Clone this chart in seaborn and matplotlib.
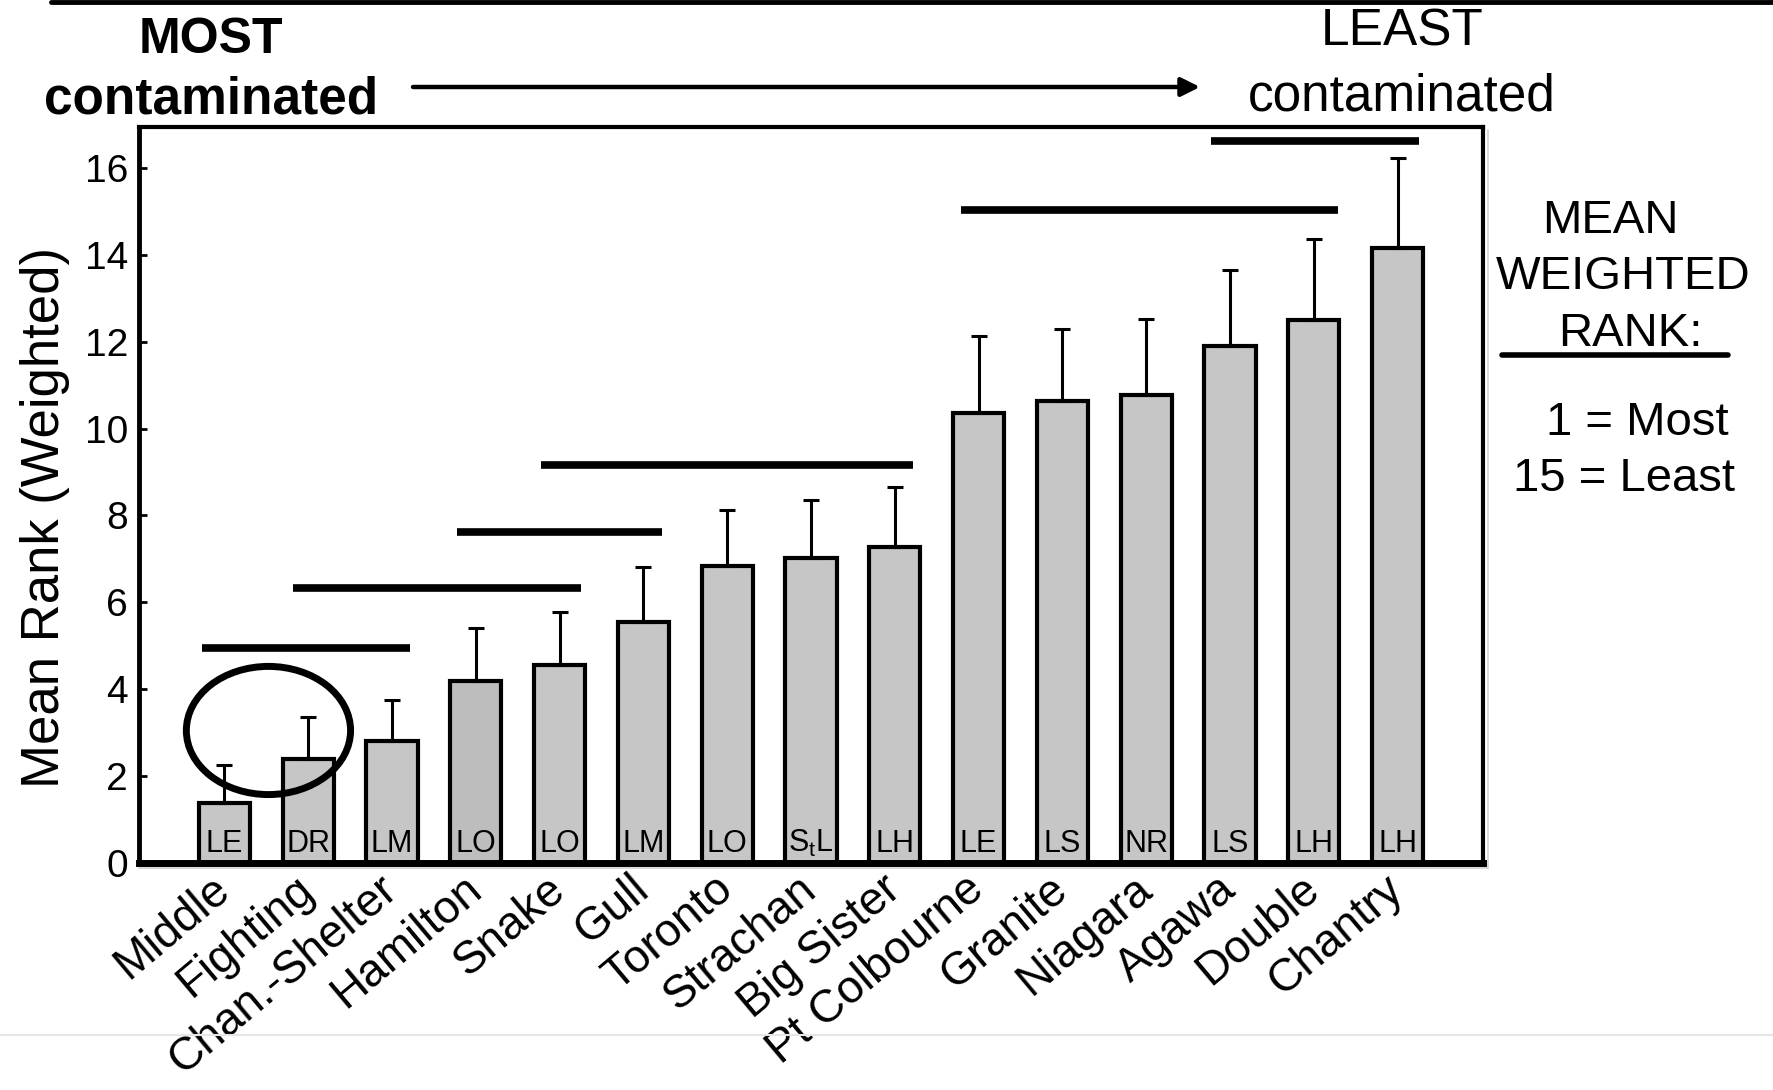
import matplotlib
matplotlib.use("Agg")
import matplotlib.pyplot as plt
from matplotlib.patches import Ellipse
from matplotlib.lines import Line2D
import numpy as np
import pandas as pd
import seaborn as sns

# Sites ordered from most to least contaminated
sites = ["Middle", "Fighting", "Chan.-Shelter", "Hamilton", "Snake", "Gull",
         "Toronto", "Strachan", "Big Sister", "Pt Colbourne", "Granite",
         "Niagara", "Agawa", "Double", "Chantry"]
lake_codes = ["LE", "DR", "LM", "LO", "LO", "LM", "LO", r"S$_{\mathregular{t}}$L",
              "LH", "LE", "LS", "NR", "LS", "LH", "LH"]
mean_rank = [1.37, 2.39, 2.81, 4.19, 4.55, 5.54, 6.84, 7.02, 7.28,
             10.35, 10.64, 10.77, 11.89, 12.49, 14.15]
rank_upper = [2.25, 3.35, 3.75, 5.41, 5.78, 6.82, 8.12, 8.35, 8.66,
              12.12, 12.30, 12.51, 13.66, 14.36, 16.23]

# Groups of sites that are not significantly different (start, end, level)
group_start = [-0.27, 0.82, 2.77, 3.78, 8.79, 11.77]
group_end = [2.21, 4.25, 5.22, 8.22, 13.29, 14.26]
group_level = [4.95, 6.32, 7.62, 9.16, 15.04, 16.62]

bar_colors = ["#c6c6c6"] * len(sites)
bar_colors[3] = "#bdbdbd"

sns.set_theme(style="white")
plt.rcParams["font.family"] = ["Liberation Sans", "DejaVu Sans"]
plt.rcParams["mathtext.default"] = "regular"
for key in ["text.color", "axes.labelcolor", "xtick.color", "ytick.color"]:
    plt.rcParams[key] = "black"

W, H = 1773, 1090
fig = plt.figure(figsize=(W / 100, H / 100), dpi=100)
ax = fig.add_axes([139 / W, 1 - 863 / H, (1483 - 139) / W, (863 - 127) / H])

df = pd.DataFrame({"site": sites, "rank": mean_rank})
sns.barplot(data=df, x="site", y="rank", hue="site", palette=bar_colors,
            legend=False, width=0.61, edgecolor="black", linewidth=3,
            saturation=1, errorbar=None, ax=ax, zorder=2)

x = np.arange(len(sites))
upper_err = np.array(rank_upper) - np.array(mean_rank)
ax.errorbar(x, mean_rank, yerr=[np.zeros(len(sites)), upper_err], fmt="none",
            ecolor="black", elinewidth=2.2, capsize=6, capthick=2.2, zorder=3)

for xi, code in zip(x, lake_codes):
    ax.text(xi, 0.26, code, ha="center", va="baseline", fontsize=22, zorder=4)

for s, e, lvl in zip(group_start, group_end, group_level):
    ax.plot([s, e], [lvl, lvl], color="black", lw=5.5, solid_capstyle="butt",
            clip_on=False, zorder=4)

ax.add_patch(Ellipse((0.525, 3.05), 1.96, 2.95, fill=False, ec="black",
                     lw=5, clip_on=False, zorder=5))

ax.set_xlim(-1.02, 15.02)
ax.set_ylim(0, 16.94)
ax.set_yticks(np.arange(0, 17, 2))
ax.set_xlabel("")
ax.set_ylabel("Mean Rank (Weighted)", fontsize=38)
ax.yaxis.set_label_coords(-0.051, 0.47)

ax.tick_params(axis="y", direction="in", length=6, width=2, labelsize=28,
               pad=8, left=True)
ax.tick_params(axis="x", direction="in", length=5, width=1.5, labelsize=33,
               pad=15, bottom=True)
ax.set_xticks(x)
ax.set_xticklabels(sites, rotation=40, ha="right", va="center",
                   rotation_mode="anchor")

for side, lw in [("left", 3.5), ("bottom", 5), ("top", 3), ("right", 3)]:
    ax.spines[side].set_visible(True)
    ax.spines[side].set_color("black")
    ax.spines[side].set_linewidth(lw)


def fx(px):
    return px / W


def fy(py):
    return 1 - py / H


# Faint drop shadow along the frame
fig.add_artist(Line2D([fx(1488), fx(1488)], [fy(130), fy(868)], color="#d2d2d2", lw=1.2))
fig.add_artist(Line2D([fx(139), fx(1488)], [fy(868), fy(868)], color="#d2d2d2", lw=1.2))

# Top rule and bottom separator
fig.add_artist(Line2D([fx(51), 1.0], [fy(2), fy(2)], color="black", lw=3.5))
fig.add_artist(Line2D([0.0, 1.0], [fy(1035), fy(1035)], color="#e6e6e6", lw=1.5))

# Contamination direction header
fig.text(fx(211), fy(53), "MOST", ha="center", va="baseline", fontsize=36,
         fontweight="bold")
fig.text(fx(211), fy(114), "contaminated", ha="center", va="baseline",
         fontsize=37, fontweight="bold")
fig.text(fx(1402), fy(46), "LEAST", ha="center", va="baseline", fontsize=37)
fig.text(fx(1402), fy(110), "contaminated", ha="center", va="baseline", fontsize=37)
ax.annotate("", xy=(1200, H - 87), xytext=(413, H - 87),
            xycoords="figure pixels", textcoords="figure pixels",
            arrowprops=dict(arrowstyle="-|>", color="black", lw=3.2,
                            mutation_scale=28, shrinkA=0, shrinkB=0))

# Rank legend on the right
fig.text(fx(1610), fy(233), "MEAN", ha="center", va="baseline", fontsize=34)
fig.text(fx(1623), fy(289), "WEIGHTED", ha="center", va="baseline", fontsize=34)
fig.text(fx(1630), fy(346), "RANK:", ha="center", va="baseline", fontsize=34)
fig.add_artist(Line2D([fx(1502), fx(1728)], [fy(355), fy(355)], color="black", lw=4))
fig.text(fx(1637), fy(435), "1 = Most", ha="center", va="baseline", fontsize=34)
fig.text(fx(1624), fy(491), "15 = Least", ha="center", va="baseline", fontsize=34)

fig.savefig("out.png", dpi=100, facecolor="white")
